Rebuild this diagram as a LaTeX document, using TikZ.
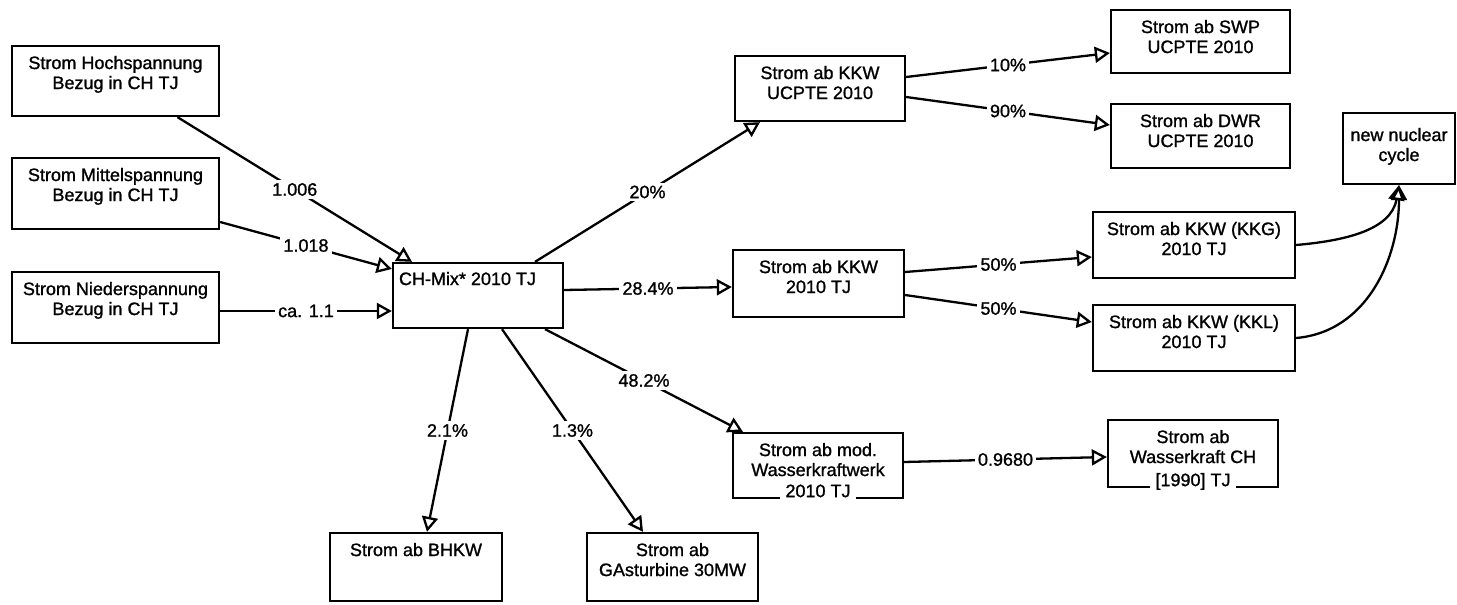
\documentclass[tikz,border=0pt]{standalone}
\usepackage{fontspec}
\setmainfont{Liberation Sans}
\newfontfamily\scanfont{Liberation Sans}[FakeBold=1.2]
\usetikzlibrary{arrows.meta}

\begin{document}
\begin{tikzpicture}[x=1pt, y=-1pt, line width=2.3pt,
	every node/.style={font=\scanfont\fontsize{18}{20}\selectfont},
	bx/.style 2 args={draw, minimum width=#1, minimum height=#2, inner sep=0pt},
	txt/.style={anchor=north, align=center, inner ysep=10pt, inner xsep=2pt},
	txtb/.style={anchor=base, fill=white, inner ysep=3pt, inner xsep=5pt, yshift=2pt},
	lbl/.style={fill=white, inner sep=3pt},
	flow/.style={-{Triangle[open, length=15pt, width=16pt]}}]
	\useasboundingbox (0,0) rectangle (1457,605);
	
	% LEFT: supply of the three voltage levels
	\node[bx={207}{70}, label={[txt]north:Strom Hochspannung\\Bezug in CH TJ}] (hoch) at (115.5,81) {};
	\node[bx={207}{71}, label={[txt]north:Strom Mittelspannung\\Bezug in CH TJ}] (mittel) at (115.5,193.5) {};
	\node[bx={207}{71}, label={[txt]north:Strom Niederspannung\\Bezug in CH TJ}] (nieder) at (115.5,307.5) {};
	
	% mix
	\node[bx={170}{65}, label={[txt, anchor=north west, inner xsep=6pt, inner ysep=9pt]north west:CH-Mix* 2010 TJ}] (mix) at (478,295.5) {};
	
	% producers
	\node[bx={170}{65}, label={[txt]north:Strom ab KKW\\UCPTE 2010}] (ucpte) at (820,88.5) {};
	\node[bx={171}{67}, label={[txt]north:Strom ab KKW\\2010 TJ}] (kkw) at (818.5,283.5) {};
	\node[bx={170}{65}, label={[txt]north:Strom ab mod.\\Wasserkraftwerk}, label={[txtb]south:2010 TJ}] (wkw) at (818,465.5) {};
	\node[bx={172}{68}, label={[txt]north:Strom ab BHKW}] (bhkw) at (416,567) {};
	\node[bx={171}{68}, label={[txt]north:Strom ab\\GAsturbine 30MW}] (gas) at (672.5,567) {};
	
	% RIGHT: second stage
	\node[bx={179}{63}, label={[txt]north:Strom ab SWP\\UCPTE 2010}] (swp) at (1200.5,41.5) {};
	\node[bx={179}{64}, label={[txt]north:Strom ab DWR\\UCPTE 2010}] (dwr) at (1200.5,136) {};
	\node[bx={202}{66}, label={[txt]north:Strom ab KKW (KKG)\\2010 TJ}] (kkg) at (1194,245) {};
	\node[bx={202}{66}, label={[txt]north:Strom ab KKW (KKL)\\2010 TJ}] (kkl) at (1194,338) {};
	\node[bx={170}{67}, label={[txt]north:Strom ab\\Wasserkraft CH}, label={[txtb]south:[1990] TJ}] (wch) at (1193,453.5) {};
	\node[bx={112}{71}, label={[txt, inner ysep=15pt]north:new nuclear\\cycle}] (nuc) at (1399,148.5) {};
	
	% flows into the mix
	\draw[flow] ([xshift=62pt]hoch.south) -- ([xshift=-66pt]mix.north) node[lbl, midway] {1.006};
	\draw[flow] ([yshift=-28.5pt]mittel.east) -- ([yshift=26.5pt]mix.west) node[lbl, midway] {1.018};
	\draw[flow] ([yshift=-3.5pt]nieder.east) -- ([yshift=-15.5pt]mix.west) node[lbl, midway] {ca. 1.1};
	
	% shares of the mix
	\draw[flow] ([xshift=57pt]mix.north) -- ([xshift=-60pt]ucpte.south) node[lbl, midway] {20\%};
	\draw[flow] ([yshift=5.5pt]mix.east) -- ([yshift=-3.5pt]kkw.west) node[lbl, midway] {28.4\%};
	\draw[flow] ([xshift=67pt]mix.south) -- ([xshift=-75pt]wkw.north) node[lbl, midway] {48.2\%};
	\draw[flow] ([xshift=-10pt]mix.south) -- ([xshift=11pt]bhkw.north) node[lbl, midway] {2.1\%};
	\draw[flow] ([xshift=24pt]mix.south) -- ([xshift=-29.5pt]gas.north) node[lbl, midway] {1.3\%};
	
	% second stage
	\draw[flow] ([yshift=11.5pt]ucpte.east) -- ([yshift=-11.5pt]swp.west) node[lbl, midway] {10\%};
	\draw[flow] ([yshift=-8.5pt]ucpte.east) -- ([yshift=11pt]dwr.west) node[lbl, midway] {90\%};
	\draw[flow] ([yshift=11.5pt]kkw.east) -- ([yshift=-12pt]kkg.west) node[lbl, midway] {50\%};
	\draw[flow] ([yshift=-11.5pt]kkw.east) -- ([yshift=16pt]kkl.west) node[lbl, midway] {50\%};
	\draw[flow] ([yshift=3.5pt]wkw.east) -- ([yshift=-3.5pt]wch.west) node[lbl, midway] {0.9680};
	
	% nuclear cycle
	\draw[flow] (kkg.east) to[out=5, in=-100] (nuc.south);
	\draw[flow] (kkl.east) to[out=5, in=-90] (nuc.south);
\end{tikzpicture}
\end{document}
